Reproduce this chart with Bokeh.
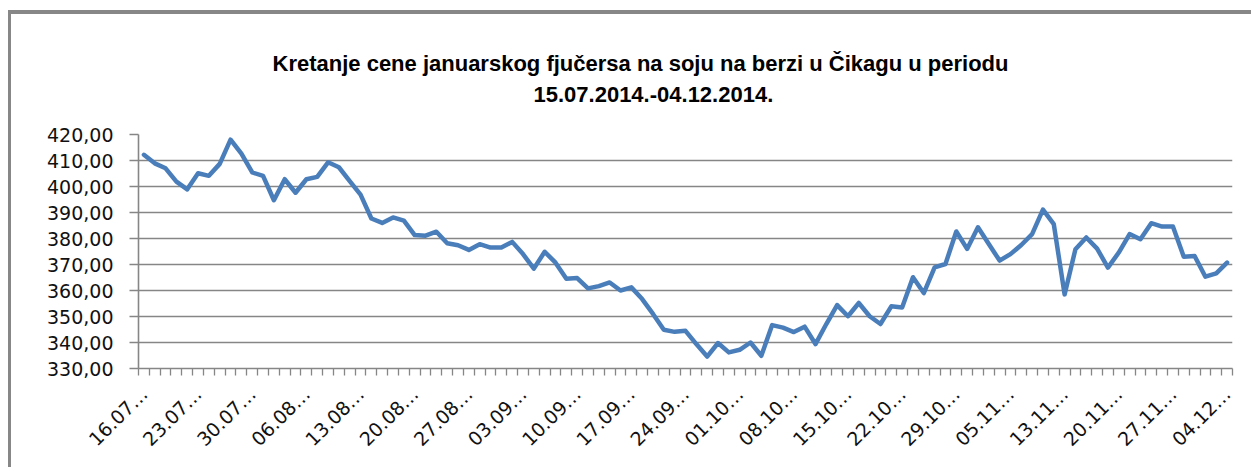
from math import pi
from bokeh.plotting import figure
from bokeh.models import FixedTicker, Range1d, Title
from bokeh.embed import file_html
from bokeh.resources import INLINE

# Closing prices, one per trading day
price = [
    412.2, 408.9, 407.0, 401.9, 398.9, 405.1, 404.1, 408.7, 418.0, 412.6,
    405.4, 404.1, 394.7, 402.8, 397.6, 402.8, 403.7, 409.3, 407.4, 402.1,
    396.9, 387.7, 386.0, 388.1, 386.9, 381.3, 381.1, 382.6, 378.2, 377.4,
    375.6, 377.8, 376.5, 376.5, 378.7, 374.0, 368.4, 374.9, 370.7, 364.5,
    364.8, 360.8, 361.7, 363.1, 360.0, 361.2, 356.7, 351.0, 344.9, 344.1,
    344.5, 339.4, 334.6, 339.8, 336.2, 337.2, 340.0, 334.9, 346.7, 345.7,
    344.0, 346.1, 339.4, 347.1, 354.4, 350.1, 355.2, 350.1, 347.1, 353.9,
    353.5, 365.1, 359.0, 368.9, 370.2, 382.7, 376.0, 384.3, 377.9, 371.5,
    374.0, 377.5, 381.7, 391.1, 385.5, 358.5, 375.9, 380.4, 376.1, 368.8,
    374.6, 381.7, 379.7, 385.9, 384.6, 384.6, 373.0, 373.3, 365.3, 366.6,
    370.7,
]

# Category labels shown on the axis (every 5th trading day)
tick_dates = [
    "16.07.2014.", "23.07.2014.", "30.07.2014.", "06.08.2014.", "13.08.2014.",
    "20.08.2014.", "27.08.2014.", "03.09.2014.", "10.09.2014.", "17.09.2014.",
    "24.09.2014.", "01.10.2014.", "08.10.2014.", "15.10.2014.", "22.10.2014.",
    "29.10.2014.", "05.11.2014.", "13.11.2014.", "20.11.2014.", "27.11.2014.",
    "04.12.2014.",
]
tick_step = 5
y_ticks = [330, 340, 350, 360, 370, 380, 390, 400, 410, 420]

title_lines = [
    "Kretanje cene januarskog  fjučersa na soju na berzi u Čikagu u periodu",
    "15.07.2014.-04.12.2014.",
]

n = len(price)
xs = list(range(n))
tick_idx = [i * tick_step for i in range(len(tick_dates))]

GRAY = "#868686"
BLUE = "#4A7EBB"
FONT = "DejaVu Sans"
TFONT = "Liberation Sans"

p = figure(width=1243, height=457, output_backend="svg", toolbar_location=None,
           x_range=Range1d(-0.5, n - 0.5), y_range=Range1d(y_ticks[0], y_ticks[-1]),
           min_border_left=127, min_border_right=22, min_border_top=120,
           min_border_bottom=103)
p.styles = {"margin-left": "8px", "margin-top": "10px",
            "border-left": "3px solid #878787", "border-top": "4px solid #878787"}
p.outline_line_color = None
p.background_fill_color = "white"
p.border_fill_color = "white"
p.title.text = ""

# grid
p.xgrid.visible = False
p.ygrid.ticker = FixedTicker(ticks=y_ticks)
p.ygrid.grid_line_color = GRAY
p.ygrid.grid_line_width = 1.3

# y axis
ya = p.yaxis[0]
ya.ticker = FixedTicker(ticks=y_ticks)
ya.major_label_overrides = {v: f"{v:.2f}".replace(".", ",") for v in y_ticks}
ya.axis_line_color = GRAY
ya.axis_line_width = 1.6
ya.major_tick_line_color = GRAY
ya.major_tick_line_width = 1.3
ya.major_tick_out = 9
ya.major_tick_in = 0
ya.minor_tick_line_color = None
ya.major_label_standoff = 16
ya.major_label_text_font = FONT
ya.major_label_text_font_size = "19px"
ya.major_label_text_color = "#111111"

# x axis
xa = p.xaxis[0]
xa.ticker = FixedTicker(ticks=tick_idx, minor_ticks=[k - 0.5 for k in range(n + 1)])
xa.major_label_overrides = {i: d[:5] + "…" for i, d in zip(tick_idx, tick_dates)}
xa.axis_line_color = GRAY
xa.axis_line_width = 1.6
xa.major_tick_out = 0
xa.major_tick_in = 0
xa.minor_tick_line_color = GRAY
xa.minor_tick_line_width = 1.3
xa.minor_tick_out = 7
xa.minor_tick_in = 0
xa.major_label_orientation = pi / 4
xa.major_label_standoff = 15
xa.major_label_text_font = FONT
xa.major_label_text_font_size = "19px"
xa.major_label_text_color = "#111111"

# data line
p.line(xs, price, line_color=BLUE, line_width=4.5, line_join="round", line_cap="round")

# title: spacer, then second line, then first line (stacked outward from the frame)
p.add_layout(Title(text=" ", text_font_size="10px", standoff=20), "above")
p.add_layout(Title(text=title_lines[1], align="left", offset=395, standoff=0,
                   vertical_align="bottom", text_font=TFONT, text_font_style="bold",
                   text_font_size="22px", text_color="#000000"), "above")
p.add_layout(Title(text=title_lines[0], align="left", offset=134, standoff=17,
                   vertical_align="bottom", text_font=TFONT, text_font_style="bold",
                   text_font_size="22px", text_color="#000000"), "above")

open("out.html", "w").write(file_html(p, INLINE))
